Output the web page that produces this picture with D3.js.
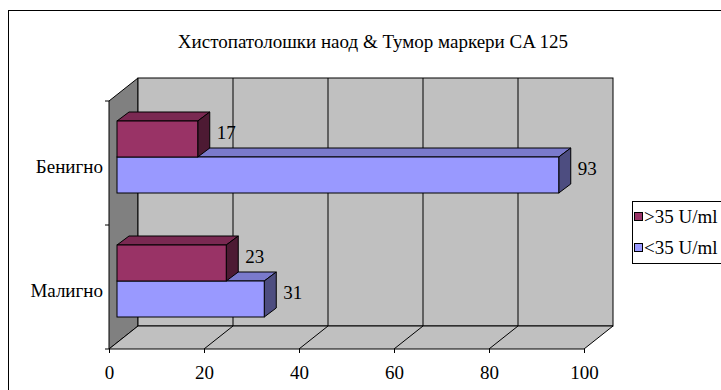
<!DOCTYPE html>
<html lang="mk">
  <head>
    <meta charset="UTF-8" />
    <title>CA 125</title>
    <style>
      body { margin: 0; background: #fff; }
      svg text { font-family: "Liberation Serif", "Times New Roman", serif; fill: #000; }
      .tick-label { font-size: 19px; }
    </style>
  </head>
  <body>
    <script src="https://d3js.org/d3.v7.min.js"></script>
    <script>
      const title = "Хистопатолошки наод & Тумор маркери CA 125";
      const categories = ["Бенигно", "Малигно"];
      const seriesNames = [">35 U/ml", "<35 U/ml"];
      const above35 = [17, 23];
      const below35 = [93, 31];
      const xTicks = [0, 20, 40, 60, 80, 100];

      const W = 721, H = 390;
      // 3d depth of the whole box and of the bars
      const depth = { dx: 29, dy: -23 };
      const barShift = { dx: 8, dy: -6 };
      const barDepth = { dx: 12, dy: -9 };

      const colors = [
        { front: "#993366", top: "#7a2952", side: "#4d1a33" },
        { front: "#9999ff", top: "#7a7acc", side: "#4d4d80" },
      ];

      const svg = d3.select("body").append("svg").attr("width", W).attr("height", H);

      // outer frame
      svg.append("rect")
        .attr("x", 8.5).attr("y", 10.5)
        .attr("width", 760).attr("height", 400)
        .attr("fill", "#fff").attr("stroke", "#000");

      svg.append("text")
        .attr("x", 373).attr("y", 48)
        .attr("text-anchor", "middle")
        .style("font-size", "19px")
        .text(title);

      const x = d3.scaleLinear().domain([0, 100]).range([109, 584]);
      const y = d3.scaleBand().domain(categories).range([101, 349]);
      const ySeries = d3.scaleBand().domain(seriesNames)
        .range([y.bandwidth() / 2 - 36, y.bandwidth() / 2 + 36]);

      const x0 = x(0), x1 = x(100), yTop = y.range()[0], yBot = y.range()[1];
      const pts = (arr) => arr.map((p) => p.join(",")).join(" ");

      // left wall
      svg.append("polygon")
        .attr("points", pts([[x0, yTop], [x0 + depth.dx, yTop + depth.dy], [x0 + depth.dx, yBot + depth.dy], [x0, yBot]]))
        .attr("fill", "#808080").attr("stroke", "#000");
      // back wall
      svg.append("rect")
        .attr("x", x0 + depth.dx).attr("y", yTop + depth.dy)
        .attr("width", x1 - x0).attr("height", yBot - yTop)
        .attr("fill", "#c0c0c0").attr("stroke", "#000");
      // floor
      svg.append("polygon")
        .attr("points", pts([[x0, yBot], [x1, yBot], [x1 + depth.dx, yBot + depth.dy], [x0 + depth.dx, yBot + depth.dy]]))
        .attr("fill", "#c0c0c0").attr("stroke", "#000");

      // gridlines on back wall and floor
      const grid = svg.append("g").attr("stroke", "#000").attr("fill", "none");
      grid.selectAll(".gv").data(xTicks.slice(1, -1)).join("line")
        .attr("x1", (d) => x(d) + depth.dx).attr("x2", (d) => x(d) + depth.dx)
        .attr("y1", yTop + depth.dy).attr("y2", yBot + depth.dy);
      grid.selectAll(".gf").data(xTicks.slice(1, -1)).join("line")
        .attr("x1", (d) => x(d)).attr("x2", (d) => x(d) + depth.dx)
        .attr("y1", yBot).attr("y2", yBot + depth.dy);

      // bars
      const bars = [];
      categories.forEach((c, i) => {
        // lower series first so upper one covers its top face
        bars.push({ cat: c, s: 1, value: below35[i] });
        bars.push({ cat: c, s: 0, value: above35[i] });
      });

      const barG = svg.append("g").attr("stroke", "#000").attr("stroke-width", 1);
      bars.forEach((b) => {
        const col = colors[b.s];
        const bx0 = x(0) + barShift.dx;
        const bx1 = x(b.value) + barShift.dx;
        const by0 = y(b.cat) + ySeries(seriesNames[b.s]) + barShift.dy;
        const by1 = by0 + ySeries.bandwidth();
        const g = barG.append("g");
        g.append("polygon")
          .attr("points", pts([[bx0, by0], [bx0 + barDepth.dx, by0 + barDepth.dy], [bx1 + barDepth.dx, by0 + barDepth.dy], [bx1, by0]]))
          .attr("fill", col.top);
        g.append("polygon")
          .attr("points", pts([[bx1, by0], [bx1 + barDepth.dx, by0 + barDepth.dy], [bx1 + barDepth.dx, by1 + barDepth.dy], [bx1, by1]]))
          .attr("fill", col.side);
        g.append("rect")
          .attr("x", bx0).attr("y", by0)
          .attr("width", bx1 - bx0).attr("height", by1 - by0)
          .attr("fill", col.front);
        svg.append("text")
          .attr("class", "tick-label")
          .attr("x", bx1 + barDepth.dx + 7)
          .attr("y", (by0 + by1) / 2 - 7)
          .attr("dy", "0.35em")
          .text(b.value);
      });

      // x axis
      const xAxis = svg.append("g")
        .attr("transform", `translate(0,${yBot})`)
        .call(d3.axisBottom(x).tickValues(xTicks).tickSize(4).tickPadding(13).tickSizeOuter(0));
      xAxis.attr("font-family", null).attr("font-size", null);
      xAxis.select(".domain").remove();
      xAxis.selectAll("line").attr("stroke", "#000");
      xAxis.selectAll("text").attr("class", "tick-label");

      // y axis: ticks at category boundaries, labels centered
      svg.append("g").attr("stroke", "#000")
        .selectAll("line").data([yTop, y(categories[1]), yBot]).join("line")
        .attr("x1", x0 - 4).attr("x2", x0).attr("y1", (d) => d).attr("y2", (d) => d);
      svg.append("g").selectAll("text").data(categories).join("text")
        .attr("class", "tick-label")
        .attr("x", x0 - 6)
        .attr("y", (d) => y(d) + y.bandwidth() / 2 + 3)
        .attr("dy", "0.35em")
        .attr("text-anchor", "end")
        .text((d) => d);

      // legend (cut by the right edge as in the original)
      const lg = svg.append("g").attr("transform", "translate(632,201)");
      lg.append("rect").attr("x", 0.5).attr("y", 0.5).attr("width", 120).attr("height", 62)
        .attr("fill", "#fff").attr("stroke", "#000");
      seriesNames.forEach((s, i) => {
        lg.append("rect").attr("x", 2.5).attr("y", 11.5 + i * 31).attr("width", 8).attr("height", 8)
          .attr("fill", colors[i].front).attr("stroke", "#000");
        lg.append("text").attr("class", "tick-label")
          .attr("x", 12).attr("y", 15.5 + i * 31).attr("dy", "0.35em").text(s);
      });
    </script>
  </body>
</html>
